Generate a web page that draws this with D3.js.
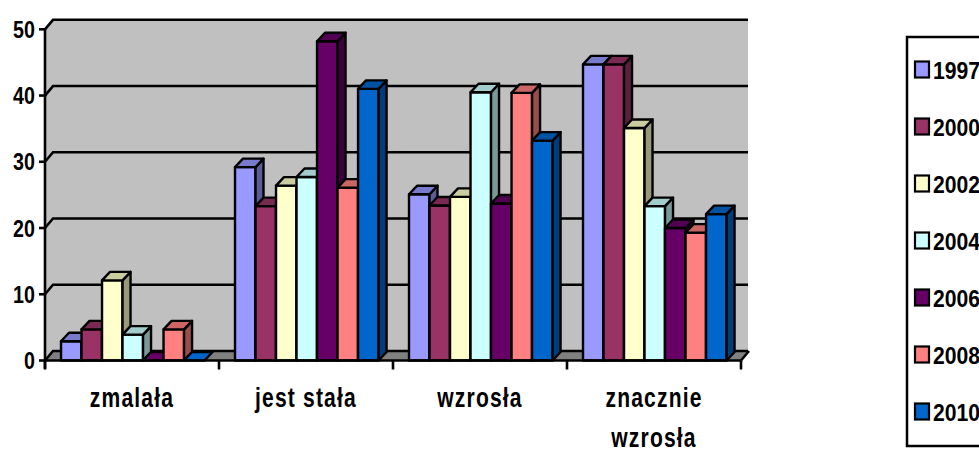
<!DOCTYPE html>
<html>
<head>
<meta charset="utf-8">
<script src="https://cdn.jsdelivr.net/npm/d3@7"></script>
<style>
  body { margin: 0; background: #fff; }
  svg { display: block; }
  text { font-family: "Liberation Sans", Arial, sans-serif; font-weight: bold; fill: #000; }
</style>
</head>
<body>
<div id="wrapper"></div>
<script>
// data
const categories = ["zmalała", "jest stała", "wzrosła", "znacznie wzrosła"]
const years = ["1997", "2000", "2002", "2004", "2006", "2008", "2010"]
const series1997 = [2.9, 29.2, 25.1, 44.7]
const series2000 = [4.7, 23.3, 23.4, 44.7]
const series2002 = [12.1, 26.4, 24.7, 35.1]
const series2004 = [3.9, 27.7, 40.5, 23.3]
const series2006 = [0, 48.2, 23.7, 20.0]
const series2008 = [4.7, 26.1, 40.4, 19.3]
const series2010 = [0, 41.0, 33.2, 22.1]
const colors = ["#9999FF", "#993366", "#FFFFCC", "#CCFFFF", "#660066", "#FF8080", "#0066CC"]
const yTicks = [0, 10, 20, 30, 40, 50]

const allSeries = [series1997, series2000, series2002, series2004, series2006, series2008, series2010]

// squeeze factor to get the narrow bold look
const narrow = 0.82

function drawChart() {
  const dimensions = {
    width: 979,
    height: 454,
    plotLeft: 45,
    plotRight: 741,
    plotTop: 29.3,
    plotBottom: 360.5,
    depthX: 8,
    depthY: 9.5,
    barDepthX: 8,
    barDepthY: 8.5,
  }

  const wrapper = d3.select("#wrapper")
    .append("svg")
      .attr("width", dimensions.width)
      .attr("height", dimensions.height)

  // scales
  const xScale = d3.scaleBand()
    .domain(categories)
    .range([dimensions.plotLeft, dimensions.plotRight])

  const seriesScale = d3.scaleBand()
    .domain(years)
    .range([xScale.bandwidth() * 0.092, xScale.bandwidth() * 0.917])

  const yScale = d3.scaleLinear()
    .domain([0, 50])
    .range([dimensions.plotBottom, dimensions.plotTop])

  const dx = dimensions.depthX, dy = dimensions.depthY
  const wallRight = dimensions.plotRight + dx - 1

  // walls and floor
  const walls = wrapper.append("g")
  walls.append("path")
      .attr("d", `M${dimensions.plotLeft},${yScale(0)} L${dimensions.plotLeft + dx},${yScale(0) - dy}
        L${dimensions.plotLeft + dx},${yScale(50) - dy} L${dimensions.plotLeft},${yScale(50)} Z`)
      .attr("fill", "#C0C0C0")
  walls.append("rect")
      .attr("x", dimensions.plotLeft + dx)
      .attr("y", yScale(50) - dy)
      .attr("width", wallRight - dimensions.plotLeft - dx)
      .attr("height", yScale(0) - yScale(50))
      .attr("fill", "#C0C0C0")
  walls.append("path")
      .attr("d", `M${dimensions.plotLeft},${yScale(0)} L${dimensions.plotRight},${yScale(0)}
        L${dimensions.plotRight + dx},${yScale(0) - dy} L${dimensions.plotLeft + dx},${yScale(0) - dy} Z`)
      .attr("fill", "#808080")
  walls.append("line")
      .attr("x1", dimensions.plotRight).attr("y1", yScale(0))
      .attr("x2", dimensions.plotRight + dx).attr("y2", yScale(0) - dy)
      .attr("stroke", "#000").attr("stroke-width", 2.5)

  // gridlines
  walls.selectAll(".grid")
    .data(yTicks)
    .join("polyline")
      .attr("class", "grid")
      .attr("points", d => `${dimensions.plotLeft},${yScale(d)} ${dimensions.plotLeft + dx},${yScale(d) - dy} ${wallRight},${yScale(d) - dy}`)
      .attr("fill", "none")
      .attr("stroke", "#000")
      .attr("stroke-width", 2.6)

  // bars
  const shade = (c, k) => {
    const col = d3.rgb(c)
    return d3.rgb(col.r * k, col.g * k, col.b * k).formatHex()
  }
  const bdx = dimensions.barDepthX, bdy = dimensions.barDepthY
  const barsGroup = wrapper.append("g")
    .attr("stroke", "#000")
    .attr("stroke-width", 2.4)
    .attr("stroke-linejoin", "round")

  categories.forEach((cat, ci) => {
    years.forEach((year, si) => {
      const v = allSeries[si][ci]
      const x0 = xScale(cat) + seriesScale(year)
      const x1 = x0 + seriesScale.bandwidth()
      const yTop = yScale(v)
      const yBot = yScale(0)
      const g = barsGroup.append("g")
      if (v > 0) {
        g.append("rect")
          .attr("x", x0).attr("y", yTop)
          .attr("width", x1 - x0).attr("height", yBot - yTop)
          .attr("fill", colors[si])
        g.append("path")
          .attr("d", `M${x1},${yTop} L${x1 + bdx},${yTop - bdy} L${x1 + bdx},${yBot - bdy} L${x1},${yBot} Z`)
          .attr("fill", shade(colors[si], 0.6))
      }
      g.append("path")
        .attr("d", `M${x0},${yTop} L${x0 + bdx},${yTop - bdy} L${x1 + bdx},${yTop - bdy} L${x1},${yTop} Z`)
        .attr("fill", v > 0 ? shade(colors[si], 0.8) : colors[si])
    })
  })

  // axes
  const yAxis = wrapper.append("g")
  yAxis.append("line")
      .attr("x1", dimensions.plotLeft).attr("x2", dimensions.plotLeft)
      .attr("y1", yScale(50)).attr("y2", yScale(0) + 8)
      .attr("stroke", "#000").attr("stroke-width", 2.6)
  yAxis.selectAll(".y-tick")
    .data(yTicks)
    .join("line")
      .attr("class", "y-tick")
      .attr("x1", dimensions.plotLeft - 6).attr("x2", dimensions.plotLeft)
      .attr("y1", d => yScale(d)).attr("y2", d => yScale(d))
      .attr("stroke", "#000").attr("stroke-width", 2.6)
  yAxis.selectAll(".y-label")
    .data(yTicks)
    .join("text")
      .attr("class", "y-label")
      .attr("transform", d => `translate(35, ${yScale(d) + 8.5}) scale(${narrow}, 1)`)
      .attr("text-anchor", "end")
      .style("font-size", "24px")
      .text(d => d)

  const xAxis = wrapper.append("g")
  xAxis.append("line")
      .attr("x1", dimensions.plotLeft).attr("x2", dimensions.plotRight)
      .attr("y1", yScale(0)).attr("y2", yScale(0))
      .attr("stroke", "#000").attr("stroke-width", 2.6)
  const xTickPositions = categories.map(c => xScale(c)).concat([dimensions.plotRight])
  xAxis.selectAll(".x-tick")
    .data(xTickPositions)
    .join("line")
      .attr("class", "x-tick")
      .attr("x1", d => d).attr("x2", d => d)
      .attr("y1", yScale(0)).attr("y2", yScale(0) + 9)
      .attr("stroke", "#000").attr("stroke-width", 2.6)

  const xLabels = xAxis.selectAll(".x-label")
    .data(categories)
    .join("text")
      .attr("class", "x-label")
      .attr("transform", d => `translate(${xScale(d) + xScale.bandwidth() / 2}, 407) scale(0.78, 1)`)
      .attr("text-anchor", "middle")
      .style("font-size", "27px")
      .style("letter-spacing", "1.5px")
      .text(d => d)

  // wrap long category labels like excel does
  xLabels.each(function(d) {
    const text = d3.select(this)
    if (this.getComputedTextLength() * 0.78 > 140) {
      const words = d.split(" ")
      text.text(null)
      words.forEach((w, i) => {
        text.append("tspan")
          .attr("x", 0)
          .attr("dy", i === 0 ? 0 : 40)
          .text(w)
      })
    }
  })

  // legend
  const legendGroup = wrapper.append("g")
  legendGroup.append("rect")
      .attr("x", 907)
      .attr("y", 37)
      .attr("width", 120)
      .attr("height", 409)
      .attr("fill", "#fff")
      .attr("stroke", "#000")
      .attr("stroke-width", 2.5)

  const legendItems = legendGroup.selectAll(".legend-item")
    .data(years)
    .join("g")
      .attr("class", "legend-item")
      .attr("transform", (d, i) => `translate(915, ${70 + i * 57})`)

  legendItems.append("rect")
      .attr("x", 0)
      .attr("y", -8.5)
      .attr("width", 14)
      .attr("height", 16)
      .attr("fill", (d, i) => colors[i])
      .attr("stroke", "#000")
      .attr("stroke-width", 2.2)

  legendItems.append("text")
      .attr("transform", `translate(18, 8.5) scale(0.92, 1)`)
      .style("font-size", "23px")
      .text(d => d)
}

drawChart()
</script>
</body>
</html>
